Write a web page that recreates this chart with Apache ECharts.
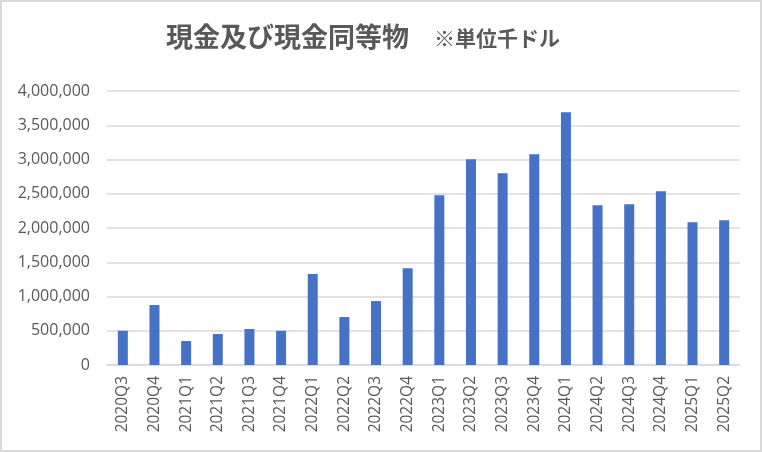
<!DOCTYPE html>
<html>
<head>
<meta charset="utf-8">
<title>現金及び現金同等物</title>
<script src="https://cdn.jsdelivr.net/npm/echarts@6/dist/echarts.min.js"></script>
<style>
  html, body { margin: 0; padding: 0; background: #fff; }
  #frame {
    width: 762px; height: 452px;
    box-sizing: border-box;
    border: 2px solid #d9d9d9;
    position: relative;
  }
  #chart { position: absolute; left: -2px; top: -2px; width: 762px; height: 452px; }
</style>
</head>
<body>
<div id="frame"><div id="chart"></div></div>
<script>
// 四半期
var quarters = ['2020Q3','2020Q4','2021Q1','2021Q2','2021Q3','2021Q4',
  '2022Q1','2022Q2','2022Q3','2022Q4','2023Q1','2023Q2','2023Q3','2023Q4',
  '2024Q1','2024Q2','2024Q3','2024Q4','2025Q1','2025Q2'];
// 現金及び現金同等物（千ドル）
var cashValues = [500000, 875000, 350000, 452000, 525000, 500000,
  1327000, 700000, 933000, 1414000, 2478000, 3003000, 2799000, 3076000,
  3688000, 2332000, 2347000, 2536000, 2085000, 2114000];
var yTicks = { min: 0, max: 4000000, interval: 500000 };

var chart = echarts.init(document.getElementById('chart'));
chart.setOption({
  animation: false,
  title: {
    text: '{main|現金及び現金同等物}{sub|※単位千ドル}',
    left: 161,
    top: 18,
    textStyle: {
      rich: {
        main: { fontSize: 27, fontWeight: 'bold', color: '#595959',
                fontFamily: 'Noto Sans CJK JP', padding: [0, 25, 0, 0] },
        sub: { fontSize: 21, fontWeight: 'bold', color: '#595959',
               fontFamily: 'Noto Sans CJK JP', padding: [3, 0, 0, 0] }
      }
    }
  },
  grid: { left: 107, right: 22, top: 91, bottom: 87 },
  xAxis: {
    type: 'category',
    data: quarters,
    axisTick: { show: false },
    axisLine: { lineStyle: { color: '#d9d9d9', width: 1.5 } },
    axisLabel: {
      rotate: 90, color: '#595959', fontSize: 15.5,
      fontFamily: 'Open Sans', margin: 11, interval: 0
    }
  },
  yAxis: {
    type: 'value',
    min: yTicks.min, max: yTicks.max, interval: yTicks.interval,
    axisLine: { show: false },
    axisTick: { show: false },
    splitLine: { lineStyle: { color: '#d9d9d9', width: 1.5 } },
    axisLabel: {
      color: '#595959', fontSize: 16, fontFamily: 'Open Sans', margin: 17,
      formatter: function (v) { return v.toLocaleString('en-US'); }
    }
  },
  series: [{
    type: 'bar',
    data: cashValues,
    barWidth: 10,
    itemStyle: { color: '#4472c4' }
  }]
});
</script>
</body>
</html>
